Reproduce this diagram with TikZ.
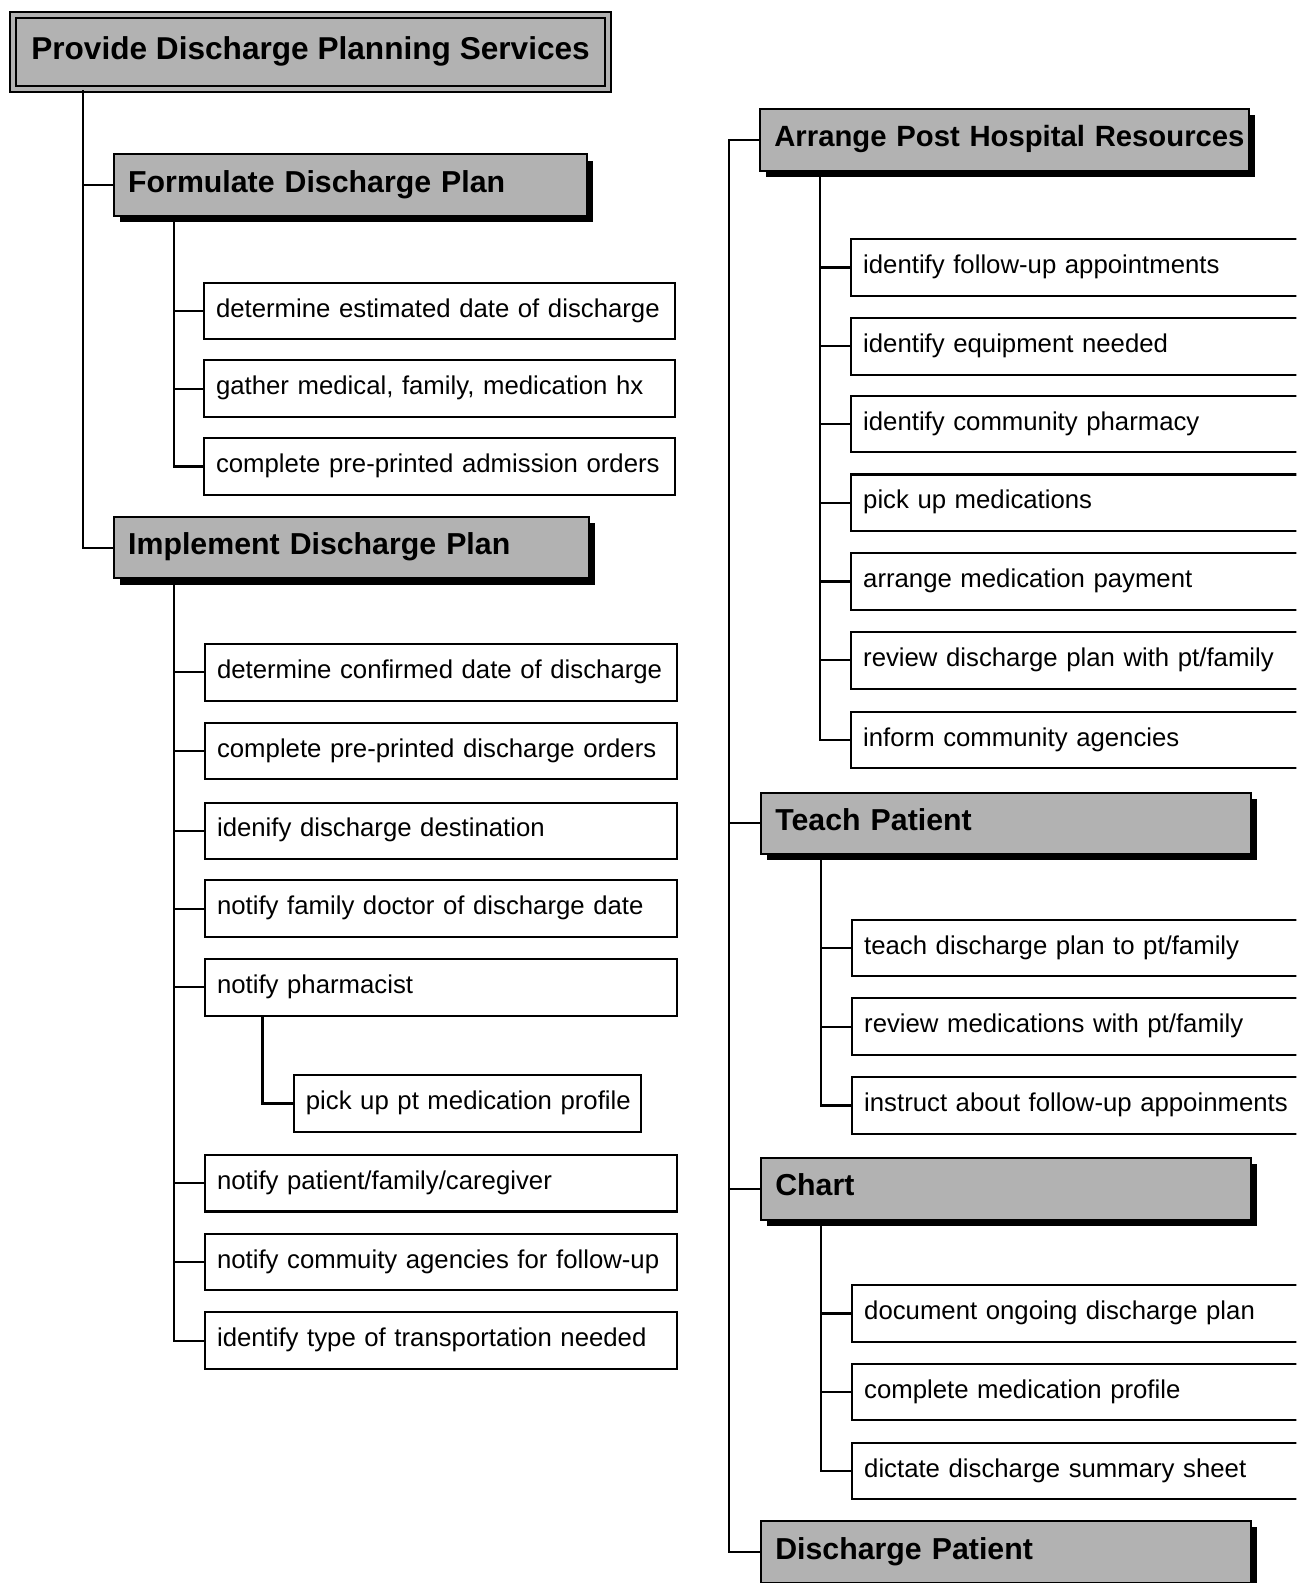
\documentclass[tikz,border=0pt]{standalone}
\usepackage{fontspec}
\setmainfont{Liberation Sans}
\usetikzlibrary{shadows}
\definecolor{boxgray}{gray}{0.70}
\begin{document}
\begin{tikzpicture}[x=1pt,y=-1pt,
  conn/.style={line width=2.2pt},
  leaf/.style={draw, line width=2pt, fill=white, anchor=north west,
    minimum height=56pt, inner xsep=0pt, inner ysep=0pt, align=left,
    execute at begin node={\hyphenpenalty=10000\hspace*{12pt}\strut},
    font=\fontsize{25.5}{30}\selectfont},
  task/.style={draw, line width=2pt, fill=boxgray, anchor=north west,
    minimum height=61pt, inner xsep=0pt, inner ysep=0pt, align=left,
    execute at begin node={\hyphenpenalty=10000\hspace*{14pt}\strut},
    font=\fontsize{30}{34}\selectfont\bfseries,
    drop shadow={shadow xshift=6pt, shadow yshift=-6pt, fill=black, opacity=1}},
  title/.style={draw, line width=2.2pt, double=boxgray, double distance=4pt,
    fill=boxgray, anchor=north west, minimum width=589pt, minimum height=73pt,
    inner sep=0pt, execute at begin node=\strut,
    font=\fontsize{31.3}{36}\selectfont\bfseries},
]
\useasboundingbox (0,0) rectangle (1284,1568);
\clip (0,0) rectangle (1284,1568);

% ---------- root ----------
\node[title] (root) at (12,14) {Provide Discharge Planning Services};

% ---------- left branch ----------
\node[task, text width=468pt] (formulate) at (112,152) {Formulate Discharge Plan};
\node[task, text width=470pt] (implement) at (112,511) {Implement Discharge Plan};

\node[leaf, text width=467pt] (f1) at (201,279) {determine estimated date of discharge};
\node[leaf, text width=467pt] (f2) at (201,356) {gather medical, family, medication hx};
\node[leaf, text width=467pt] (f3) at (201,433) {complete pre-printed admission orders};

\node[leaf, text width=468pt] (i1) at (202,637) {determine confirmed date of discharge};
\node[leaf, text width=468pt] (i2) at (202,715) {complete pre-printed discharge orders};
\node[leaf, text width=468pt] (i3) at (202,794) {idenify discharge destination};
\node[leaf, text width=468pt] (i4) at (202,871) {notify family doctor of discharge date};
\node[leaf, text width=468pt] (i5) at (202,949) {notify pharmacist};
\node[leaf, text width=344pt] (p1) at (290,1064) {pick up pt medication profile};
\node[leaf, text width=468pt] (i6) at (202,1143) {notify patient/family/caregiver};
\node[leaf, text width=468pt] (i7) at (202,1221) {notify commuity agencies for follow-up};
\node[leaf, text width=468pt] (i8) at (202,1299) {identify type of transportation needed};

% ---------- right branch ----------
\node[task, text width=484pt, font=\fontsize{29}{34}\selectfont\bfseries] (arrange) at (752,107) {Arrange Post Hospital Resources};
\node[task, text width=485pt] (teach) at (753,784) {Teach Patient};
\node[task, text width=485pt] (chart) at (753,1146) {Chart};
\node[task, text width=485pt] (discharge) at (753,1506) {Discharge Patient};

\node[leaf, text width=480pt] (a1) at (842,236) {identify follow-up appointments};
\node[leaf, text width=480pt] (a2) at (842,314) {identify equipment needed};
\node[leaf, text width=480pt] (a3) at (842,391) {identify community pharmacy};
\node[leaf, text width=480pt] (a4) at (842,469) {pick up medications};
\node[leaf, text width=480pt] (a5) at (842,547) {arrange medication payment};
\node[leaf, text width=480pt] (a6) at (842,625) {review discharge plan with pt/family};
\node[leaf, text width=480pt] (a7) at (842,704) {inform community agencies};

\node[leaf, text width=480pt] (t1) at (843,910) {teach discharge plan to pt/family};
\node[leaf, text width=480pt] (t2) at (843,988) {review medications with pt/family};
\node[leaf, text width=480pt] (t3) at (843,1066) {instruct about follow-up appoinments};

\node[leaf, text width=480pt] (c1) at (843,1272) {document ongoing discharge plan};
\node[leaf, text width=480pt] (c2) at (843,1350) {complete medication profile};
\node[leaf, text width=480pt] (c3) at (843,1428) {dictate discharge summary sheet};

% ---------- trunks ----------
\coordinate (rootstem) at ([xshift=70pt]root.south west);
\coordinate (fstem) at ([xshift=60pt]formulate.south west);
\coordinate (istem) at ([xshift=60pt]implement.south west);
\coordinate (pstem) at ([xshift=58pt]i5.south west);
\coordinate (astem) at ([xshift=60pt]arrange.south west);
\coordinate (tstem) at ([xshift=60pt]teach.south west);
\coordinate (cstem) at ([xshift=60pt]chart.south west);
\coordinate (rstem) at ([xshift=-30pt]arrange.west);

% ---------- connectors ----------
\draw[conn] (rootstem) |- (formulate.west);
\draw[conn] (rootstem) |- (implement.west);

\draw[conn] (fstem) |- (f3.west);
\foreach \n in {f1,f2} \draw[conn] (\n.west) -- (\n.west -| fstem);

\draw[conn] (istem) |- (i8.west);
\foreach \n in {i1,i2,i3,i4,i5,i6,i7} \draw[conn] (\n.west) -- (\n.west -| istem);
\draw[conn] (pstem) |- (p1.west);

\draw[conn] (arrange.west) -- (rstem) |- (discharge.west);
\draw[conn] (teach.west) -- (teach.west -| rstem);
\draw[conn] (chart.west) -- (chart.west -| rstem);

\draw[conn] (astem) |- (a7.west);
\foreach \n in {a1,a2,a3,a4,a5,a6} \draw[conn] (\n.west) -- (\n.west -| astem);

\draw[conn] (tstem) |- (t3.west);
\foreach \n in {t1,t2} \draw[conn] (\n.west) -- (\n.west -| tstem);

\draw[conn] (cstem) |- (c3.west);
\foreach \n in {c1,c2} \draw[conn] (\n.west) -- (\n.west -| cstem);
\end{tikzpicture}
\end{document}
